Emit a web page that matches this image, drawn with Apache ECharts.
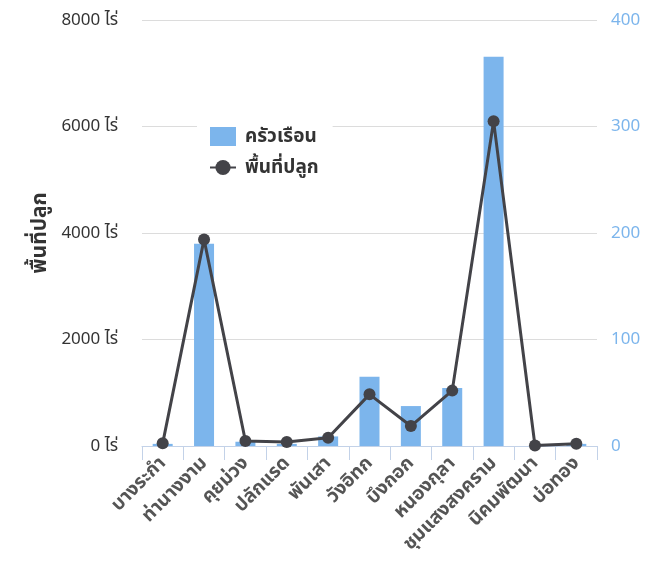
<!DOCTYPE html>
<html><head><meta charset="utf-8">
<script src="https://cdn.jsdelivr.net/npm/echarts@6/dist/echarts.min.js"></script>
<style>html,body{margin:0;padding:0;background:#fff}#c{width:662px;height:562px}</style>
</head><body><div id="c"></div>
<script>
var categories = ['บางระกำ','ท่านางงาม','คุยม่วง','ปลักแรด','พันเสา','วังอิทก','บึงกอก','หนองกุลา','ชุมแสงสงคราม','นิคมพัฒนา','บ่อทอง'];
var households = [2, 190, 4, 2, 9, 65, 37.5, 54.5, 365.5, 0, 2];
var areaRai = [50, 3880, 94, 75, 156, 970, 375, 1040, 6100, 10, 43];
var leftTicks = {min: 0, max: 8000, interval: 2000};
var rightTicks = {min: 0, max: 400, interval: 100};

var font = "'Noto Sans', 'Noto Sans Thai', sans-serif";
var chart = echarts.init(document.getElementById('c'));
chart.setOption({
  animation: false,
  textStyle: {fontFamily: font},
  grid: {left: 142, right: 65, top: 20, bottom: 116},
  legend: {
    orient: 'vertical', left: 197, top: 119,
    backgroundColor: '#fff', padding: [8, 14, 8, 12],
    itemWidth: 26, itemHeight: 19, itemGap: 12,
    textStyle: {fontSize: 19, fontWeight: 'bold', color: '#333', fontFamily: font, padding: [0, 0, 0, 4]},
    data: [{name: 'ครัวเรือน', icon: 'rect'}, {name: 'พื้นที่ปลูก'}]
  },
  xAxis: {
    type: 'category', data: categories,
    axisLine: {show: true, lineStyle: {color: '#c3d2e8', width: 1}},
    axisTick: {show: true, length: 14, lineStyle: {color: '#c3d2e8', width: 1}},
    axisLabel: {rotate: 45, interval: 0, fontSize: 19, fontWeight: 'bold', color: '#555', margin: 14, fontFamily: font}
  },
  yAxis: [{
    type: 'value', min: leftTicks.min, max: leftTicks.max, interval: leftTicks.interval,
    name: 'พื้นที่ปลูก', nameLocation: 'middle', nameGap: 88, nameRotate: 90,
    nameTextStyle: {fontSize: 21, fontWeight: 'bold', color: '#333', fontFamily: font},
    axisLabel: {formatter: function (v) { return v + ' ไร่'; }, fontSize: 17, color: '#333', margin: 24, fontFamily: font},
    splitLine: {lineStyle: {color: '#dcdcdc', width: 1}},
    axisLine: {show: false}, axisTick: {show: false}
  }, {
    type: 'value', min: rightTicks.min, max: rightTicks.max, interval: rightTicks.interval,
    position: 'right',
    axisLabel: {fontSize: 17, color: '#7cb5ec', margin: 14, fontFamily: font},
    splitLine: {show: false}, axisLine: {show: false}, axisTick: {show: false}
  }],
  series: [{
    name: 'ครัวเรือน', type: 'bar', yAxisIndex: 1, data: households,
    barWidth: 20, itemStyle: {color: '#7cb5ec'}
  }, {
    name: 'พื้นที่ปลูก', type: 'line', yAxisIndex: 0, data: areaRai,
    symbol: 'circle', symbolSize: 12,
    lineStyle: {color: '#434348', width: 3},
    itemStyle: {color: '#434348'}
  }]
});
</script></body></html>
